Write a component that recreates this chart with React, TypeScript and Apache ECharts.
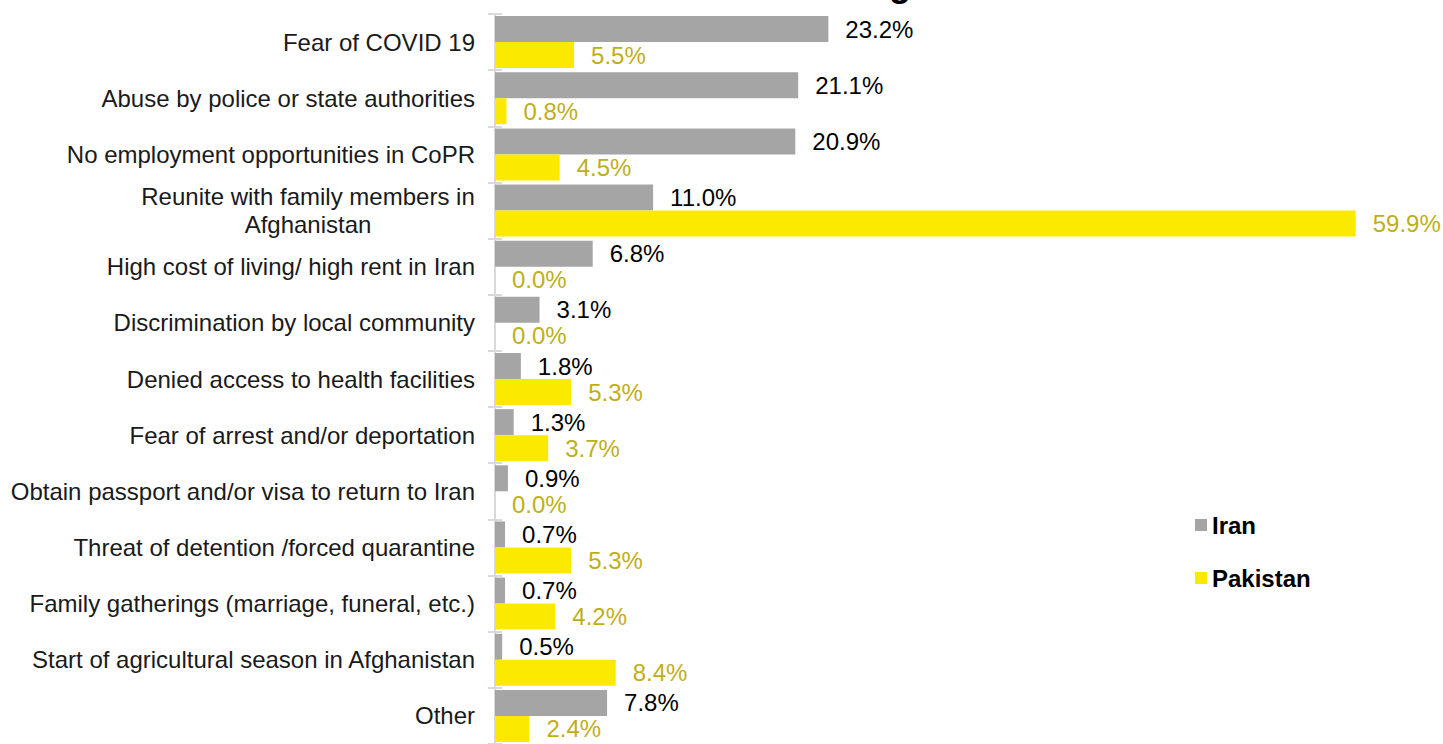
import React, { useEffect, useRef } from "react";
import * as echarts from "echarts";

const categories = [
  "Fear of COVID 19",
  "Abuse by police or state authorities",
  "No employment opportunities in CoPR",
  "Reunite with family members in\nAfghanistan",
  "High cost of living/ high rent in Iran",
  "Discrimination by local community",
  "Denied access to health facilities",
  "Fear of arrest and/or deportation",
  "Obtain passport and/or visa to return to Iran",
  "Threat of detention /forced quarantine",
  "Family gatherings (marriage, funeral, etc.)",
  "Start of agricultural season in Afghanistan",
  "Other",
];
const iranValues = [23.2, 21.1, 20.9, 11.0, 6.8, 3.1, 1.8, 1.3, 0.9, 0.7, 0.7, 0.5, 7.8];
const pakistanValues = [5.5, 0.8, 4.5, 59.9, 0.0, 0.0, 5.3, 3.7, 0.0, 5.3, 4.2, 8.4, 2.4];
const seriesNames = ["Iran", "Pakistan"];
const titleText = "Reasons for returning";

export default function App() {
  const ref = useRef<HTMLDivElement>(null);
  useEffect(() => {
    document.body.style.margin = "0";
    const chart = echarts.init(ref.current!, null, { renderer: "svg" });
    const font = "Liberation Sans, Arial, sans-serif";
    chart.setOption({
      animation: false,
      textStyle: { fontFamily: font },
      graphic: [
        {
          type: "text",
          x: 911,
          y: 1,
          style: {
            text: titleText,
            font: "bold 36px Liberation Sans, Arial, sans-serif",
            fill: "#000",
            textAlign: "right",
            textVerticalAlign: "bottom",
          },
        },
      ],
      legend: {
        data: seriesNames,
        orient: "vertical",
        left: 1195,
        top: 513,
        padding: 0,
        itemWidth: 12,
        itemHeight: 12,
        itemGap: 29,
        icon: "rect",
        textStyle: { fontSize: 24, lineHeight: 24, fontWeight: "bold", color: "#000", fontFamily: font },
      },
      grid: { left: 495, right: 14, top: 14, bottom: -5, containLabel: false },
      xAxis: {
        type: "value",
        min: 0,
        max: 65,
        show: false,
      },
      yAxis: [
        {
          type: "category",
          data: categories,
          inverse: true,
          position: "left",
          axisLine: { show: true, lineStyle: { color: "#d9d9d9", width: 2 } },
          axisTick: { show: true, length: 7, lineStyle: { color: "#d9d9d9", width: 2 } },
          axisLabel: {
            fontSize: 24,
            color: "#1a1a1a",
            margin: 20,
            fontFamily: font,
            lineHeight: 28,
            formatter: (v: string) => {
              if (v.indexOf("\n") >= 0) {
                return v
                  .split("\n")
                  .map((s) => "{c|" + s + "}")
                  .join("\n");
              }
              return v;
            },
            rich: {
              c: {
                width: 334,
                align: "center",
                fontSize: 24,
                lineHeight: 28,
                color: "#1a1a1a",
                fontFamily: font,
              },
            },
          },
        },
        {
          type: "category",
          data: categories,
          inverse: true,
          position: "left",
          offset: 0,
          axisLine: { show: false },
          axisTick: { show: true, inside: true, length: 7, lineStyle: { color: "#d9d9d9", width: 2 } },
          axisLabel: { show: false },
        },
      ],
      series: [
        {
          name: seriesNames[0],
          type: "bar",
          data: iranValues,
          barWidth: 26,
          barGap: "0%",
          itemStyle: { color: "#a5a5a5" },
          label: {
            show: true,
            position: "right",
            distance: 17,
            formatter: (p: any) => p.value.toFixed(1) + "%",
            fontSize: 24,
            color: "#000",
            fontFamily: font,
          },
        },
        {
          name: seriesNames[1],
          type: "bar",
          data: pakistanValues,
          barWidth: 26,
          barGap: "0%",
          itemStyle: { color: "#fce900" },
          label: {
            show: true,
            position: "right",
            distance: 17,
            formatter: (p: any) => p.value.toFixed(1) + "%",
            fontSize: 24,
            color: "#bfae1a",
            fontFamily: font,
          },
        },
      ],
    });
    return () => chart.dispose();
  }, []);
  return <div ref={ref} style={{ width: 1443, height: 744 }} />;
}
